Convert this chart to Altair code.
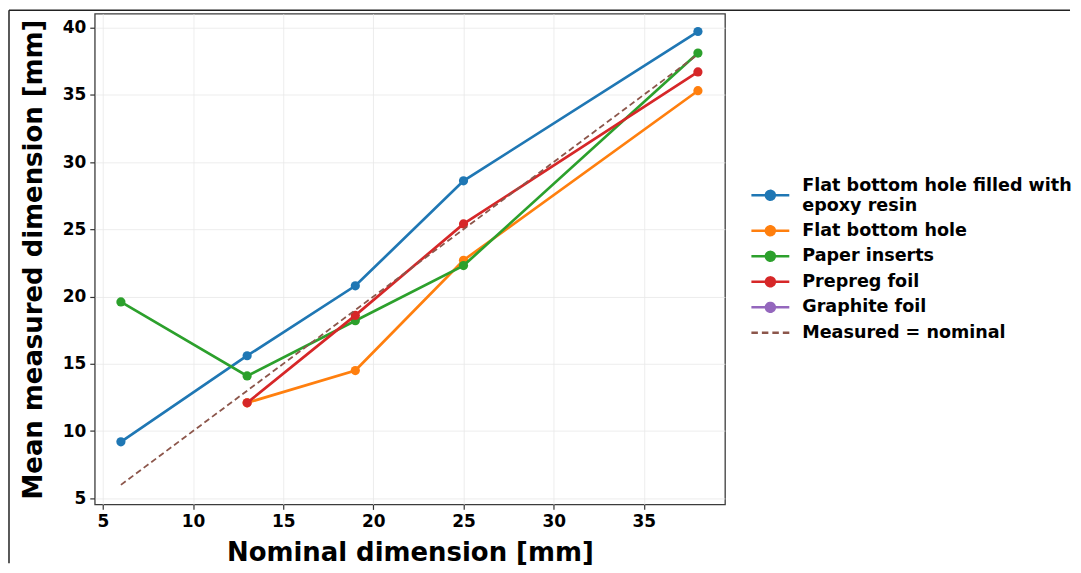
import altair as alt
import pandas as pd

# ---- data ----
series_names = [
    "Flat bottom hole filled with epoxy resin",
    "Flat bottom hole",
    "Paper inserts",
    "Prepreg foil",
    "Graphite foil",
    "Measured = nominal",
]
series_colors = ["#1f77b4", "#ff7f0e", "#2ca02c", "#d62728", "#9467bd", "#8c564b"]

epoxy_x = [6, 13, 19, 25, 38]
epoxy_y = [9.2, 15.6, 20.8, 28.6, 39.7]

fbh_x = [13, 19, 25, 38]
fbh_y = [12.1, 14.5, 22.7, 35.3]

paper_x = [6, 13, 19, 25, 38]
paper_y = [19.6, 14.1, 18.2, 22.3, 38.1]

prepreg_x = [13, 19, 25, 38]
prepreg_y = [12.1, 18.6, 25.4, 36.7]

ref_x = [6, 38]
ref_y = [6, 38]

x_ticks = [5, 10, 15, 20, 25, 30, 35]
y_ticks = [5, 10, 15, 20, 25, 30, 35, 40]

# ---- build table ----
rows = []
for name, xs, ys in [
    (series_names[0], epoxy_x, epoxy_y),
    (series_names[1], fbh_x, fbh_y),
    (series_names[2], paper_x, paper_y),
    (series_names[3], prepreg_x, prepreg_y),
    (series_names[5], ref_x, ref_y),
]:
    for xv, yv in zip(xs, ys):
        rows.append({"series": name, "x": xv, "y": yv})
df = pd.DataFrame(rows)

FONT = "DejaVu Sans"

x_enc = alt.X(
    "x:Q",
    scale=alt.Scale(domain=[4.55, 39.5], nice=False, zero=False),
    axis=alt.Axis(
        values=x_ticks,
        title="Nominal dimension [mm]",
        titleFont=FONT, titleFontSize=26, titleFontWeight="bold", titleColor="black",
        titlePadding=10,
        labelFont=FONT, labelFontSize=17, labelFontWeight="bold", labelColor="black",
        labelPadding=4, tickSize=5, tickColor="#333333", tickWidth=1.2,
        domain=False, gridColor="#e9e9e9", gridWidth=0.8,
    ),
)
y_enc = alt.Y(
    "y:Q",
    scale=alt.Scale(domain=[4.55, 41.02], nice=False, zero=False),
    axis=alt.Axis(
        values=y_ticks,
        title="Mean measured dimension [mm]",
        titleFont=FONT, titleFontSize=26, titleFontWeight="bold", titleColor="black",
        titlePadding=16,
        labelFont=FONT, labelFontSize=17, labelFontWeight="bold", labelColor="black",
        labelPadding=4, tickSize=5, tickColor="#333333", tickWidth=1.2,
        domain=False, gridColor="#e9e9e9", gridWidth=0.8,
    ),
)


def dot_line(dy):
    # legend glyph: a line segment with a dot in the middle (unit = half symbol size)
    r = 0.47
    return (
        f"M-2,{dy}L2,{dy}"
        f"M{r},{dy}A{r},{r},0,1,1,-{r},{dy}A{r},{r},0,1,1,{r},{dy}Z"
    )


first_glyph = dot_line(0.95)
dot_glyph = dot_line(0)
dash_glyph = "M-2,0L2,0"
first = series_names[0]

legend = alt.Legend(
    title=None,
    orient="none",
    legendX=666.5,
    legendY=162,
    padding=0,
    labelFont=FONT,
    labelFontSize=17.6,
    labelFontWeight="bold",
    labelColor="black",
    labelLimit=400,
    labelOffset=21,
    symbolSize=361,
    symbolStrokeWidth=2.5,
    symbolOpacity=1,
    rowPadding=4.6,
    labelExpr=f"datum.label == '{first}' ? ['Flat bottom hole filled with', 'epoxy resin'] : datum.label",
)

base = alt.Chart(df).encode(x=x_enc, y=y_enc)

layers = []
for i, name in enumerate(series_names[:4]):
    sub = base.transform_filter(alt.datum.series == name)
    layers.append(sub.mark_line(strokeWidth=2.7, color=series_colors[i]))
    layers.append(sub.mark_circle(size=85, opacity=1, color=series_colors[i]))
layers.append(
    base.transform_filter(alt.datum.series == series_names[5]).mark_line(
        strokeWidth=1.8, strokeDash=[6, 3.5], color=series_colors[5]
    )
)

# legend-only layer (draws no marks; its scales make the legend)
legend_layer = (
    alt.Chart(df)
    .transform_filter("false")
    .mark_point(filled=True, opacity=1, strokeWidth=2.5)
    .encode(
        x=alt.X("x:Q"),
        y=alt.Y("y:Q"),
        fill=alt.Fill("series:N", scale=alt.Scale(domain=series_names, range=series_colors), legend=legend),
        stroke=alt.Stroke("series:N", scale=alt.Scale(domain=series_names, range=series_colors), legend=legend),
        shape=alt.Shape(
            "series:N",
            scale=alt.Scale(
                domain=series_names,
                range=[first_glyph] + [dot_glyph] * 4 + [dash_glyph],
            ),
            legend=legend,
        ),
        strokeDash=alt.StrokeDash(
            "series:N",
            scale=alt.Scale(domain=series_names, range=[[1, 0]] * 5 + [[6.5, 4]]),
            legend=legend,
        ),
    )
)
layers.append(legend_layer)

# thin dark figure border along the top and left edges (decoration)
frame_src = alt.Chart(pd.DataFrame({"k": [0]}))
frame_left = frame_src.mark_rule(color="#222222", strokeWidth=1.5).encode(
    x=alt.value(-86), y=alt.value(-3.5), y2=alt.value(551)
)
frame_top = frame_src.mark_rule(color="#222222", strokeWidth=1.5).encode(
    x=alt.value(-86), x2=alt.value(978), y=alt.value(-3.5)
)
layers += [frame_left, frame_top]

chart = (
    alt.layer(*layers)
    .properties(
        width=632,
        height=492,
        padding={"left": 0, "top": 0, "right": 0, "bottom": 0},
        background="white",
    )
    .configure_view(stroke="#3c3c3c", strokeWidth=1.3)
)

chart.save("out.html", embed_options={"renderer": "svg", "actions": False})
